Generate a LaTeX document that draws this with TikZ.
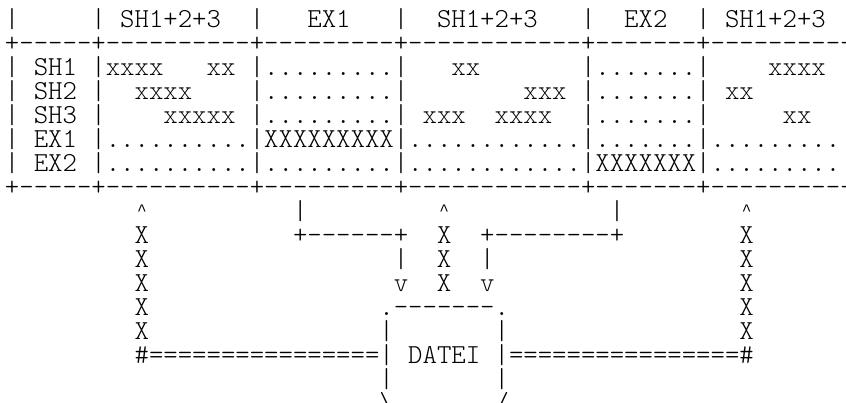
\documentclass[tikz,border=0pt]{standalone}
\usepackage{fontspec}
\newfontfamily\monofont{lmmonolt10-regular.otf}
\newfontfamily\caretfont{Liberation Mono}
\usepackage{tikz}
\newcommand\asciifont{\monofont\fontsize{27.43pt}{24pt}\selectfont}
\newlength\cw
\settowidth\cw{\asciifont x}
\newcommand\gap[1]{\hspace*{#1\cw}}
\newcommand\caret{\makebox[\cw]{\raisebox{3.5pt}{\caretfont\fontsize{16pt}{16pt}\selectfont\string^}}}
\tikzset{
  ascii/.style={font=\asciifont,inner sep=0pt,anchor=base west},
}
\begin{document}
\begin{tikzpicture}[x=\cw,y=-24pt]
  \useasboundingbox (0,0) rectangle (846pt,-402pt);
  \begin{scope}[shift={(4.8pt,-27pt)}]
  % table
  \node[ascii] (hdr)   at (0,0) {|\gap{5}|\gap{1}SH1+2+3\gap{2}|\gap{3}EX1\gap{3}|\gap{2}SH1+2+3\gap{3}|\gap{2}EX2\gap{2}|\gap{1}SH1+2+3};
  \node[ascii] (rule1) at (0,1) {+-----+----------+---------+------------+-------+----------};
  \node[ascii] (sh1)   at (0,2) {|\gap{1}SH1\gap{1}|xxxx\gap{3}xx\gap{1}|.........|\gap{3}xx\gap{7}|.......|\gap{4}xxxx};
  \node[ascii] (sh2)   at (0,3) {|\gap{1}SH2\gap{1}|\gap{2}xxxx\gap{4}|.........|\gap{8}xxx\gap{1}|.......|\gap{1}xx};
  \node[ascii] (sh3)   at (0,4) {|\gap{1}SH3\gap{1}|\gap{4}xxxxx\gap{1}|.........|\gap{1}xxx\gap{2}xxxx\gap{2}|.......|\gap{5}xx};
  \node[ascii] (ex1)   at (0,5) {|\gap{1}EX1\gap{1}|..........|XXXXXXXXX|............|.......|.........};
  \node[ascii] (ex2)   at (0,6) {|\gap{1}EX2\gap{1}|..........|.........|............|XXXXXXX|.........};
  \node[ascii] (rule2) at (0,7) {+-----+----------+---------+------------+-------+----------};
  % flows to and from the file
  \node[ascii] (tips)  at (9,8)  {\caret\gap{10}|\gap{9}\caret\gap{11}|\gap{8}\caret};
  \node[ascii] (bend)  at (9,9)  {X\gap{10}+------+\gap{2}X\gap{2}+--------+\gap{8}X};
  \node[ascii] (drop)  at (9,10) {X\gap{17}|\gap{2}X\gap{2}|\gap{17}X};
  \node[ascii] (heads) at (9,11) {X\gap{17}v\gap{2}X\gap{2}v\gap{17}X};
  \node[ascii] (lid)   at (9,12) {X\gap{16}.-------.\gap{16}X};
  \node[ascii] (wall)  at (9,13) {X\gap{16}|\gap{7}|\gap{16}X};
  \node[ascii] (datei) at (9,14) {\#================|\gap{1}DATEI\gap{1}|================\#};
  \node[ascii] (wall2) at (26,15) {|\gap{7}|};
  \node[ascii] (foot)  at (26,16) {\textbackslash\gap{7}/};
  \end{scope}
\end{tikzpicture}
\end{document}
